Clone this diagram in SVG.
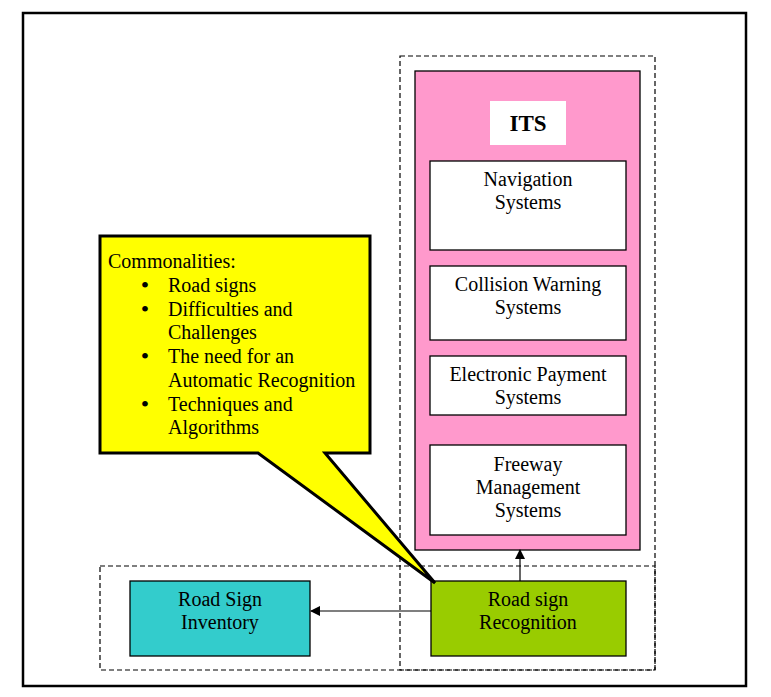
<svg xmlns="http://www.w3.org/2000/svg" width="771" height="697" viewBox="0 0 771 697">
<style>
text{font-family:"Liberation Serif","Times New Roman",serif;font-size:20px;fill:#000;text-anchor:middle}
.l{text-anchor:start}
.b{text-anchor:middle;font-size:24px}
.box{stroke:#000;stroke-width:1.3}
.dash{fill:none;stroke:#000;stroke-width:1.2;stroke-dasharray:5,3}
.conn{stroke:#000;stroke-width:1.2;fill:none}
</style>
<defs>
<marker id="ah" markerWidth="10" markerHeight="10" refX="9" refY="5" orient="auto" markerUnits="userSpaceOnUse">
<path d="M0,0 L10,5 L0,10 Z" fill="#000"/>
</marker>
</defs>
<rect width="771" height="697" fill="#fff"/>
<rect x="23" y="13" width="723" height="673" fill="none" stroke="#000" stroke-width="2.5"/>
<rect class="dash" x="400" y="56" width="255" height="614"/>
<rect class="dash" x="100" y="566" width="555" height="104"/>
<g id="its">
<rect class="box" x="415" y="71" width="225" height="479" fill="#FF99CC"/>
<rect x="490" y="101" width="76" height="44" fill="#fff"/>
<text x="528" y="131" style="font-weight:bold;font-size:23px">ITS</text>
</g>
<g id="nav">
<rect class="box" x="430" y="161" width="196" height="89" fill="#fff"/>
<text x="528" y="186">Navigation</text>
<text x="528" y="209">Systems</text>
</g>
<g id="collision">
<rect class="box" x="430" y="266" width="196" height="74" fill="#fff"/>
<text x="528" y="291">Collision Warning</text>
<text x="528" y="314">Systems</text>
</g>
<g id="payment">
<rect class="box" x="430" y="356" width="196" height="59" fill="#fff"/>
<text x="528" y="381">Electronic Payment</text>
<text x="528" y="404">Systems</text>
</g>
<g id="freeway">
<rect class="box" x="430" y="445" width="196" height="90" fill="#fff"/>
<text x="528" y="471">Freeway</text>
<text x="528" y="494">Management</text>
<text x="528" y="517">Systems</text>
</g>
<g id="inventory">
<rect class="box" x="130" y="581" width="180" height="75" fill="#33CCCC"/>
<text x="220" y="606">Road Sign</text>
<text x="220" y="629">Inventory</text>
</g>
<g id="recognition">
<rect class="box" x="431" y="581" width="195" height="75" fill="#99CC00"/>
<text x="528" y="606">Road sign</text>
<text x="528" y="629">Recognition</text>
</g>
<g id="connectors">
<line class="conn" x1="431" y1="611" x2="311" y2="611" marker-end="url(#ah)"/>
<line class="conn" x1="520" y1="581" x2="520" y2="550" marker-end="url(#ah)"/>
</g>
<g id="callout">
<path d="M100,236 H370 V453 H325 L435,583 L258,453 H100 Z" fill="#FFFF00" stroke="#000" stroke-width="3" stroke-linejoin="miter"/>
<text class="l" x="108" y="268">Commonalities:</text>
<text class="b" x="145" y="293">•</text>
<text class="l" x="168" y="292">Road signs</text>
<text class="b" x="145" y="317">•</text>
<text class="l" x="168" y="316">Difficulties and</text>
<text class="l" x="168" y="339">Challenges</text>
<text class="b" x="145" y="364">•</text>
<text class="l" x="168" y="363">The need for an</text>
<text class="l" x="168" y="387">Automatic Recognition</text>
<text class="b" x="145" y="412">•</text>
<text class="l" x="168" y="411">Techniques and</text>
<text class="l" x="168" y="434">Algorithms</text>
</g>
</svg>
